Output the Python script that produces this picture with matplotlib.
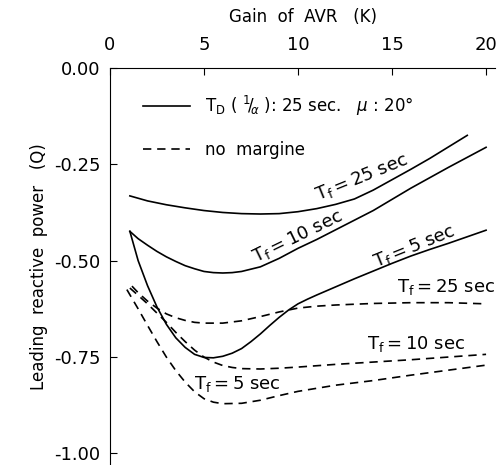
import matplotlib
matplotlib.use('Agg')
import matplotlib.pyplot as plt
from matplotlib.lines import Line2D

# gain K and leading reactive power Q
# solid: T_D = 25 sec, mu = 20 deg
k_s25 = [1.06, 2, 3, 4, 5, 6, 7, 8, 9, 10, 11, 12, 13, 14, 15, 16, 17, 18, 19]
q_s25 = [-0.332, -0.345, -0.355, -0.363, -0.370, -0.375, -0.378, -0.379, -0.378, -0.373, -0.365,
         -0.354, -0.34, -0.317, -0.29, -0.263, -0.235, -0.205, -0.175]

k_s10 = [1.06, 1.5, 2, 2.5, 3, 3.5, 4, 4.5, 5, 5.5, 6, 6.5, 7, 8, 9, 10, 11, 12, 13, 14, 15, 16,
         17, 18, 19, 20]
q_s10 = [-0.424, -0.443, -0.46, -0.476, -0.49, -0.502, -0.513, -0.521, -0.528, -0.531, -0.532,
         -0.531, -0.528, -0.516, -0.494, -0.468, -0.445, -0.42, -0.395, -0.37, -0.341, -0.312,
         -0.285, -0.258, -0.232, -0.206]

k_s5 = [1.06, 1.5, 2, 2.5, 3, 3.5, 4, 4.5, 5, 5.5, 6, 6.5, 7, 7.5, 8, 8.5, 9, 9.5, 10, 10.5, 11,
        12, 13, 14, 15, 16, 17, 18, 19, 20]
q_s5 = [-0.424, -0.5, -0.565, -0.62, -0.665, -0.70, -0.725, -0.743, -0.751, -0.752, -0.748,
        -0.74, -0.728, -0.71, -0.69, -0.668, -0.647, -0.628, -0.612, -0.6, -0.589, -0.568,
        -0.547, -0.527, -0.507, -0.488, -0.471, -0.455, -0.438, -0.421]

# dashed: no margine
k_d25 = [1.17, 1.5, 2, 2.5, 3, 3.5, 4, 4.5, 5, 6, 7, 8, 9, 10, 11, 12, 14, 16, 18, 20]
q_d25 = [-0.566, -0.583, -0.605, -0.623, -0.638, -0.648, -0.655, -0.66, -0.662, -0.662, -0.656,
         -0.645, -0.633, -0.623, -0.618, -0.615, -0.611, -0.609, -0.609, -0.612]

k_d10 = [1.06, 1.5, 2, 2.5, 3, 3.5, 4, 4.5, 5, 5.5, 6, 6.5, 7, 8, 9, 10, 12, 14, 16, 18, 20]
q_d10 = [-0.571, -0.59, -0.612, -0.636, -0.66, -0.686, -0.71, -0.732, -0.75, -0.763, -0.772,
         -0.777, -0.78, -0.781, -0.779, -0.776, -0.769, -0.763, -0.757, -0.75, -0.743]

k_d5 = [0.9, 1.2, 1.5, 2, 2.5, 3, 3.5, 4, 4.5, 5, 5.5, 6, 7, 8, 9, 10, 12, 14, 16, 18, 20]
q_d5 = [-0.575, -0.6, -0.625, -0.668, -0.71, -0.75, -0.785, -0.815, -0.84, -0.858, -0.867,
        -0.871, -0.87, -0.862, -0.85, -0.839, -0.823, -0.811, -0.797, -0.784, -0.771]

x_ticks = [0, 5, 10, 15, 20]
y_ticks = [0.0, -0.25, -0.5, -0.75, -1.0]

fig = plt.figure(figsize=(5.02, 4.65), dpi=100)
ax = fig.add_axes([0.219, 0.0, 0.768, 0.854])

lw = 1.2
dash = (5, 3.5)
ax.plot(k_s25, q_s25, color='black', lw=lw)
ax.plot(k_s10, q_s10, color='black', lw=lw)
ax.plot(k_s5, q_s5, color='black', lw=lw)
ax.plot(k_d25, q_d25, color='black', lw=lw, dashes=dash)
ax.plot(k_d10, q_d10, color='black', lw=lw, dashes=dash)
ax.plot(k_d5, q_d5, color='black', lw=lw, dashes=dash)

ax.set_xlim(0, 20.5)
ax.set_ylim(-1.03, 0)

ax.spines['right'].set_visible(False)
ax.spines['bottom'].set_visible(False)
ax.xaxis.tick_top()
ax.xaxis.set_label_position('top')
ax.set_xticks(x_ticks)
ax.set_xticklabels([str(t) for t in x_ticks])
ax.set_yticks(y_ticks)
ax.set_yticklabels(['%.2f' % t for t in y_ticks])
ax.tick_params(axis='x', direction='in', length=5, pad=10, labelsize=13)
ax.tick_params(axis='y', direction='in', length=5, pad=7, labelsize=13)
ax.set_xlabel('Gain  of  AVR   (K)', fontsize=12, labelpad=10)
ax.set_ylabel('Leading  reactive  power   (Q)', fontsize=12, labelpad=4)

# curve labels
lab = dict(fontsize=13, color='black', ha='center', va='center')
ax.text(13.4, -0.285, r'$\mathregular{T_f = 25\ sec}$', rotation=22, **lab)
ax.text(10.0, -0.437, r'$\mathregular{T_f = 10\ sec}$', rotation=26, **lab)
ax.text(16.2, -0.463, r'$\mathregular{T_f = 5\ sec}$', rotation=22, **lab)
ax.text(17.9, -0.568, r'$\mathregular{T_f = 25\ sec}$', **lab)
ax.text(16.3, -0.717, r'$\mathregular{T_f = 10\ sec}$', **lab)
ax.text(6.75, -0.82, r'$\mathregular{T_f = 5\ sec}$', **lab)

handles = [Line2D([], [], color='black', lw=lw),
           Line2D([], [], color='black', lw=lw, dashes=dash)]
labels = [r'$\mathregular{T_D}$ ( $^{1}\!/\!_{\alpha}$ ): 25 sec.   $\mu$ : 20°',
          'no  margine']
ax.legend(handles, labels, loc='upper left', bbox_to_anchor=(0.086, 0.935),
          frameon=False, fontsize=12, handlelength=2.8, handletextpad=0.9,
          labelspacing=1.4, borderpad=0, borderaxespad=0)

fig.savefig('out.png', dpi=100)
